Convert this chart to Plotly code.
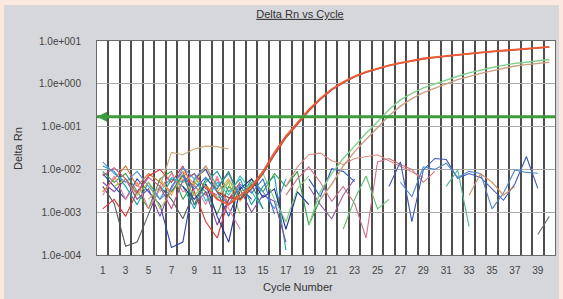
import math
import plotly.graph_objects as go

CYCLES = list(range(1, 41))
THRESHOLD = 0.17
X_TICKS = list(range(1, 40, 2))
Y_TICKVALS = [1e-4, 1e-3, 1e-2, 1e-1, 1e0, 1e1]
Y_TICKTEXT = ["1.0e-004", "1.0e-003", "1.0e-002", "1.0e-001", "1.0e+000", "1.0e+001"]

# amplification curves: (first cycle, values)
RED_A_START = 10
RED_A = [0.004, 0.002, 0.0015, 0.0025, 0.004, 0.009, 0.025, 0.06, 0.12, 0.25, 0.45, 0.75,
         1.1, 1.5, 1.9, 2.3, 2.7, 3.1, 3.5, 3.9, 4.2, 4.5, 4.8, 5.1, 5.4, 5.7, 6.0, 6.3,
         6.6, 7.0, 7.3]
RED_B_START = 11
RED_B = [0.003, 0.0022, 0.002, 0.0035, 0.008, 0.022, 0.055, 0.11, 0.23, 0.43, 0.72, 1.05,
         1.45, 1.85, 2.25, 2.65, 3.05, 3.45, 3.8, 4.1, 4.45, 4.75, 5.05, 5.35, 5.65, 5.95,
         6.25, 6.55, 6.9, 7.2]
GREEN_START = 19
GREEN = [0.0005, 0.003, 0.008, 0.018, 0.035, 0.07, 0.13, 0.25, 0.42, 0.6, 0.8, 1.0, 1.2,
         1.5, 1.8, 2.1, 2.4, 2.7, 3.0, 3.2, 3.5, 3.7]
TAN_START = 20
TAN = [0.002, 0.0045, 0.012, 0.026, 0.05, 0.095, 0.18, 0.3, 0.45, 0.62, 0.8, 1.0, 1.25,
       1.5, 1.75, 2.0, 2.3, 2.6, 2.8, 3.0, 3.2]

# background (non-amplifying) traces: start cycle + values
N1_START, N1 = 1, [0.008, 0.004, 0.002, 0.006, 0.003, 0.0015, 0.00015, 0.0002, 0.006, 0.01, 0.003, 0.0008, 0.004, 0.002]
N2_START, N2 = 1, [0.012, 0.009, 0.004, 0.0015, 0.005, 0.002, 0.006, 0.004, 0.0012, 0.005, 0.009, 0.003, 0.006, 0.0015, 0.004, 0.007, 0.00013]
N3_START, N3 = 1, [0.004, 0.0016, 0.00016, 0.0002, 0.0009, 0.004, 0.002, 0.0007, 0.003]
N4_START, N4 = 1, [0.003, 0.006, 0.012, 0.004, 0.008, 0.005, 0.003, 0.007, 0.004, 0.0025, 0.006, 0.0015, 0.003]
N5_START, N5 = 1, [0.009, 0.005, 0.008, 0.003, 0.0012, 0.006, 0.009, 0.002, 0.005, 0.003, 0.0009, 0.004, 0.002, 0.006, 0.003, 0.008, 0.004, 0.009, 0.0005, 0.002]
N6_START, N6 = 1, [0.005, 0.003, 0.006, 0.002, 0.0035, 0.0008, 0.004, 0.009, 0.0015, 0.003, 0.0005, 0.002, 0.0035, 0.001, 0.0025, 0.0018, 0.0002]
N7_START, N7 = 1, [0.0012, 0.002, 0.0008, 0.003, 0.007, 0.01, 0.005, 0.012, 0.003, 0.0006, 0.00025, 0.002, 0.005]
N8_START, N8 = 1, [0.0025, 0.007, 0.002, 0.005, 0.0012, 0.0035, 0.008, 0.003, 0.0045, 0.0015, 0.007, 0.0012, 0.0004]
N9_START, N9 = 5, [0.002, 0.004, 0.025, 0.022, 0.03, 0.035, 0.034, 0.03]
N10_START, N10 = 1, [0.015, 0.008, 0.005, 0.009, 0.004, 0.002, 0.0035, 0.011, 0.006, 0.012, 0.004, 0.008, 0.002, 0.005, 0.003, 0.0012, 0.006]
N11_START, N11 = 2, [0.004, 0.006, 0.0025, 0.005, 0.0012, 0.003, 0.006, 0.0025, 0.0045, 0.002, 0.005, 0.0009]
N12_START, N12 = 6, [0.003, 0.0065, 0.005, 0.008, 0.0018, 0.005, 0.0025, 0.007, 0.003, 0.0012]
N13_START, N13 = 8, [0.004, 0.002, 0.0045, 0.0008, 0.0002, 0.0035, 0.006, 0.0022, 0.0035, 0.0004, 0.003, 0.0015]
N14_START, N14 = 9, [0.006, 0.004, 0.0022, 0.0055, 0.003, 0.0045, 0.008, 0.002, 0.0006, 0.0035, 0.007]
N15_START, N15 = 17, [0.004, 0.0115, 0.022, 0.024, 0.016, 0.013, 0.018, 0.02, 0.022, 0.016, 0.012, 0.009, 0.0065]
N16_START, N16 = 17, [0.0025, 0.006, 0.0115, 0.005, 0.0018, 0.004, 0.0016, 0.00025, 0.015, 0.018, 0.013, 0.01, 0.005, 0.009]
N17_START, N17 = 19, [0.004, 0.0015, 0.0007, 0.0025, 0.006]
N18_START, N18 = 19, [0.006, 0.0023, 0.0104, 0.009, 0.0052]
N19_START, N19 = 22, [0.0004, 0.002, 0.007, 0.0012, 0.002]
N20_START, N20 = 26, [0.004, 0.015, 0.0006, 0.0097, 0.018, 0.017, 0.0062, 0.008, 0.0065, 0.0035, 0.0019, 0.0046, 0.02, 0.0036]
N21_START, N21 = 27, [0.005, 0.0023, 0.0115, 0.01, 0.014, 0.0065, 0.009, 0.008, 0.0012, 0.0028, 0.0097, 0.0085, 0.0081]
N22_START, N22 = 31, [0.004, 0.0097, 0.00046]
N23_START, N23 = 33, [0.0025, 0.008, 0.005, 0.0025, 0.004]
N24_START, N24 = 39, [0.0003, 0.0008]
N25_START, N25 = 6, [0.006, 0.0025, 0.009, 0.0045, 0.012, 0.003, 0.006, 0.0018, 0.004]
N26_START, N26 = 7, [0.003, 0.0075, 0.0015, 0.006, 0.0035, 0.009, 0.002, 0.0045, 0.0012]
N27_START, N27 = 1, [0.007, 0.011, 0.006, 0.0028, 0.0065, 0.004, 0.0012, 0.0055, 0.008, 0.0035, 0.0025]
N28_START, N28 = 8, [0.007, 0.0035, 0.0065, 0.003, 0.0015, 0.0045, 0.0028, 0.006, 0.0009]

NOISE = [
    (N1_START, N1, "#2a44b0"), (N2_START, N2, "#1f9fa8"), (N3_START, N3, "#55585e"),
    (N4_START, N4, "#e07030"), (N5_START, N5, "#35a045"), (N6_START, N6, "#7a48a8"),
    (N7_START, N7, "#d83535"), (N8_START, N8, "#e87fa0"), (N9_START, N9, "#c8a878"),
    (N10_START, N10, "#5090e0"), (N11_START, N11, "#a8c040"), (N12_START, N12, "#30c0c8"),
    (N13_START, N13, "#203090"), (N14_START, N14, "#80d080"), (N15_START, N15, "#e08a80"),
    (N16_START, N16, "#d07088"), (N17_START, N17, "#9060a0"), (N18_START, N18, "#3060c0"),
    (N19_START, N19, "#60c070"), (N20_START, N20, "#3a58b8"), (N21_START, N21, "#4a88c8"),
    (N22_START, N22, "#50b890"), (N23_START, N23, "#d09060"), (N24_START, N24, "#707070"),
    (N25_START, N25, "#e8a040"), (N26_START, N26, "#2c8c70"), (N27_START, N27, "#c05080"),
    (N28_START, N28, "#4070d0"),
]

fig = go.Figure()


def add(start, vals, color, width=1.0):
    xs = CYCLES[start - 1:start - 1 + len(vals)]
    fig.add_trace(go.Scatter(x=xs, y=vals, mode="lines",
                             line=dict(color=color, width=width), hoverinfo="skip"))


for s, v, c in NOISE:
    add(s, v, c, 1.1)

add(TAN_START, TAN, "#c8a080", 1.4)
add(GREEN_START, GREEN, "#7fd08a", 1.4)
add(RED_B_START, RED_B, "#b04a3a", 1.4)
add(RED_A_START, RED_A, "#ee5a34", 1.8)

# threshold line
fig.add_trace(go.Scatter(x=[0.5, 40.5], y=[THRESHOLD, THRESHOLD], mode="lines",
                         line=dict(color="#3c9c3c", width=3), hoverinfo="skip"))

# layout geometry (pixels)
W, H = 563, 299
L, R, T, B = 97, 555, 41, 255
pw, ph = R - L, B - T


def px(x):
    return (x - L) / pw


def py(y):
    return (B - y) / ph


shapes = [
    dict(type="rect", xref="paper", yref="paper", x0=px(4), x1=px(559), y0=py(300), y1=py(5),
         fillcolor="#d6d7db", line=dict(width=0), layer="below"),
    dict(type="rect", xref="paper", yref="paper", x0=0, x1=1, y0=0, y1=1,
         fillcolor="#ffffff", line=dict(width=0), layer="below"),
]

ly = math.log10(THRESHOLD)
annotations = [
    dict(x=0.5, y=ly, xref="x", yref="y", ax=12, ay=0, text="", showarrow=True,
         arrowhead=2, arrowsize=1, arrowwidth=2, arrowcolor="#3c9c3c"),
    dict(x=40.6, y=ly, xref="x", yref="y", ax=-12, ay=0, text="", showarrow=True,
         arrowhead=2, arrowsize=1, arrowwidth=2, arrowcolor="#3c9c3c"),
    dict(x=px(298), y=py(287), xref="paper", yref="paper", text="Cycle Number",
         showarrow=False, xanchor="center", yanchor="middle",
         font=dict(size=11, color="#333333")),
    dict(x=px(18), y=py(149), xref="paper", yref="paper", text="Delta Rn", textangle=-90,
         showarrow=False, xanchor="center", yanchor="middle",
         font=dict(size=11, color="#333333")),
]

fig.update_layout(
    width=W, height=H,
    margin=dict(l=L, r=W - R, t=T, b=H - B, pad=0),
    paper_bgcolor="#fce8de",
    plot_bgcolor="#ffffff",
    showlegend=False,
    hovermode=False,
    font=dict(family="Liberation Sans, Arial, sans-serif", size=10, color="#444444"),
    title=dict(text="<u>Delta Rn vs Cycle</u>", x=300 / W, y=1 - 14 / H,
               xanchor="center", yanchor="middle",
               font=dict(size=11, color="#333333")),
    shapes=shapes,
    annotations=annotations,
)

fig.update_xaxes(
    range=[0.5, 40.5], tickmode="array", tickvals=X_TICKS, ticktext=[str(t) for t in X_TICKS],
    showgrid=False, zeroline=False,
    ticks="outside", ticklen=6, tickcolor="rgba(0,0,0,0)",
    showline=True, linecolor="#6a6a6a", linewidth=1, mirror=True,
    minor=dict(tick0=0.5, dtick=1, showgrid=True, gridcolor="#4e4e4e", gridwidth=2, ticks=""),
    tickfont=dict(size=10, color="#444444"),
)
fig.update_yaxes(
    type="log", range=[-4, 1], tickmode="array", tickvals=Y_TICKVALS, ticktext=Y_TICKTEXT,
    showgrid=True, gridcolor="#ababab", gridwidth=1.2, zeroline=False,
    ticks="outside", ticklen=13, tickcolor="rgba(0,0,0,0)",
    showline=True, linecolor="#6a6a6a", linewidth=1, mirror=True,
    tickfont=dict(size=10, color="#444444"),
)

fig.write_html("out.html", config={"displayModeBar": False},
               post_script="document.body.style.margin='0';document.body.style.overflow='hidden';")
